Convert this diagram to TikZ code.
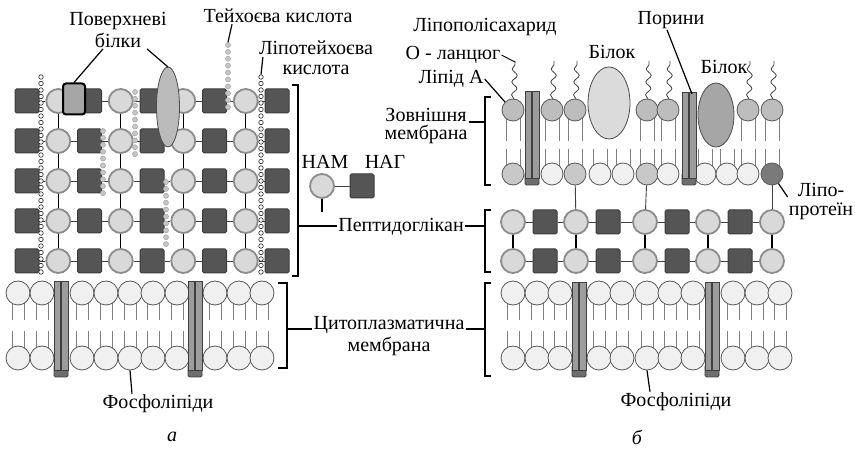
\documentclass[tikz,border=0pt]{standalone}
\usepackage{fontspec}
\setmainfont{Liberation Serif}
\usetikzlibrary{positioning}
\usetikzlibrary{decorations.pathmorphing}

\definecolor{nagfill}{HTML}{555555}
\definecolor{nagdraw}{HTML}{3C3C3C}
\definecolor{namfill}{HTML}{D9D9D9}
\definecolor{namdraw}{HTML}{8C8C8C}
\definecolor{headfill}{HTML}{F0F0F0}
\definecolor{lpsfill}{HTML}{BDBDBD}
\definecolor{lpsb}{HTML}{C8C8C8}
\definecolor{lipprot}{HTML}{7A7A7A}
\definecolor{chanfill}{HTML}{9C9C9C}
\definecolor{chandark}{HTML}{6E6E6E}

\newcommand{\lblfont}{\fontsize{20}{22}\selectfont}
% membrane channel: left x, top y, bottom y
\newcommand{\channel}[3]{%
  \draw[draw=black!75,fill=chandark,line width=0.8pt,rounded corners=1.5pt] (#1,#3-12) rectangle (#1+14,#3);
  \draw[draw=black!75,fill=chanfill,line width=0.8pt] (#1,#2) rectangle (#1+6.5,#3-7);
  \draw[draw=black!75,fill=chanfill,line width=0.8pt] (#1+7.5,#2) rectangle (#1+14,#3-7);
}

\tikzset{
  nag/.style={rectangle,draw=nagdraw,fill=nagfill,line width=1pt,rounded corners=1.5pt,minimum size=24pt,inner sep=0pt},
  nam/.style={circle,draw=namdraw,fill=namfill,line width=1.8pt,minimum size=24pt,inner sep=0pt},
  head/.style={circle,draw=black!65,fill=headfill,line width=0.8pt,minimum size=24pt,inner sep=0pt},
  lps/.style={head,fill=lpsfill,minimum size=22pt},
  teich/.style={circle,draw=black!35,fill=black!22,line width=0.6pt,minimum size=5pt,inner sep=0pt},
  lta/.style={circle,draw=black!85,fill=white,line width=0.6pt,minimum size=4.5pt,inner sep=0pt},
  sprot/.style={rectangle,draw=black,fill=black!35,line width=2pt,rounded corners=3pt,minimum width=22pt,minimum height=31pt,inner sep=0pt},
  tail/.style={draw=black!50,line width=0.9pt},
  link/.style={draw=black,line width=1.4pt},
  hlink/.style={draw=black!75,line width=0.9pt},
  lbl/.style={font=\lblfont,align=center,inner sep=1pt},
  lead/.style={draw=black,line width=1.2pt},
  brace/.style={draw=black,line width=1.5pt},
  ochain/.style={draw=black!75,line width=0.8pt,decorate,decoration={snake,amplitude=2.6pt,segment length=13pt}},
}

\begin{document}
\begin{tikzpicture}[x=1pt,y=-1pt]
\useasboundingbox (0,0) rectangle (855,449);

% ===== а: Gram-positive wall =====
% peptidoglycan net
\foreach \r/\y in {1/101,2/141,3/181,4/221,5/261}{
  \foreach \c in {0,...,8}{
    \pgfmathsetmacro{\x}{27+31.25*\c}
    \ifodd\c \node[nam] (ga-\r-\c) at (\x,\y) {};
    \else \node[nag] (ga-\r-\c) at (\x,\y) {};
    \fi
  }
  \foreach \c [evaluate=\c as \n using int(\c+1)] in {0,...,7}
    \draw[hlink] (ga-\r-\c) -- (ga-\r-\n);
}
\foreach \r [evaluate=\r as \s using int(\r+1)] in {1,...,4}
  \foreach \c in {1,3,5,7}
    \draw[link] (ga-\r-\c) -- (ga-\s-\c);

% teichoic and lipoteichoic acids
\foreach \x/\y in {228/45,135/92,103/131,166/182}
  \foreach \k in {1,...,10}
    \node[teich] (ta-\x-\k) at (\x,\y+6.9*\k-6.9) {};
\foreach \x in {41,261}
  \foreach \k in {1,...,31}
    \node[lta] (la-\x-\k) at (\x,70.5+6.5*\k) {};

% surface proteins
\node[sprot] (sp) at (74,99) {};
\draw[draw=black!70,fill=black!27,line width=0.8pt] (168,107) ellipse [x radius=11.5,y radius=40];
\coordinate (sp2) at (168,67);

\node[lbl] (surf) at (118,30) {Поверхневі\\білки};
\draw[lead] ([xshift=-15pt]surf.south) -- (sp.north);
\draw[lead] ([xshift=29pt]surf.south) -- (sp2);
\node[lbl] (tk) at (278,16) {Тейхоєва кислота};
\draw[lead] ([xshift=-46pt]tk.south) -- (ta-228-1.north);
\node[lbl,font=\fontsize{20}{20.5}\selectfont] (ltk) at (316,58) {Ліпотейхоєва\\кислота};
\draw[lead] ([xshift=5pt,yshift=1pt]ltk.west) -- (la-261-1.north);

\draw[brace] (292,85) -- (298,85) -- (298,276) -- (292,276);
\coordinate (pga) at (298,226);

% NAM / NAG key
\node[lbl] (namlbl) at (325,162) {НАМ};
\node[lbl] (naglbl) at (385,162) {НАГ};
\node[nam] (namkey) at (322,186) {};
\node[nag] (nagkey) at (362,186) {};
\coordinate (namstub) at (322,212);
\draw[hlink] (namkey) -- (nagkey);
\draw[link] (namkey) -- (namstub);

% cytoplasmic membrane
\foreach \x [count=\i] in {18,42,82,106,130,153,177,215,239,262}{
  \draw[tail] (\x-6,300) -- (\x-6,320) (\x+6,300) -- (\x+6,320)
              (\x-6,331) -- (\x-6,351) (\x+6,331) -- (\x+6,351);
  \node[head] (ma-t\i) at (\x,293) {};
  \node[head] (ma-b\i) at (\x,358) {};
}
\channel{54}{281}{377}
\channel{188}{281}{377}
\draw[brace] (278,283) -- (287,283) -- (287,368) -- (278,368);
\coordinate (cma) at (287,329);

\node[lbl] (fla) at (158,404) {Фосфоліпіди};
\draw[lead] ([xshift=-26pt]fla.north) -- (ma-b5.south);
\node[lbl,font=\lblfont\itshape] (capa) at (172,437) {а};

% ===== shared labels =====
\node[lbl] (pglbl) at (401,227) {Пептидоглікан};
\coordinate (pgb) at (485,226);
\draw[lead] (pga) -- (pga -| pglbl.west);
\draw[lead] (pgb -| pglbl.east) -- (pgb);

\node[lbl] (cmlbl) at (389,336) {Цитоплазматична\\мембрана};
\coordinate (cmb) at (485,329);
\draw[lead] (cma) -- (cma -| cmlbl.west);
\draw[lead] (cmb -| cmlbl.east) -- (cmb);

% ===== б: Gram-negative wall =====
% outer membrane
\foreach \x in {513,552,575,647,668,748,772}
  \draw[ochain] (\x+1,99) -- (\x+2,61);
\foreach \x [count=\i] in {513,552,575,647,668,748,772}{
  \draw[tail] (\x-7,115) -- (\x-7,141) (\x+7,115) -- (\x+7,141);
  \node[lps] (ot-\i) at (\x,110) {};
}
\foreach \x/\f [count=\i] in {513/lpsb,552/headfill,575/lpsb,600/headfill,623/headfill,647/lpsb,668/headfill,705/headfill,727/headfill,748/headfill,772/lipprot}{
  \draw[tail] (\x-7,149) -- (\x-7,169) (\x+7,149) -- (\x+7,169);
  \node[head,minimum size=22pt,fill=\f] (ob-\i) at (\x,174) {};
}
\channel{525}{91}{185}
\channel{682}{92}{185}
\draw[draw=black!70,fill=black!14,line width=0.8pt] (609,103) ellipse [x radius=21,y radius=36];
\draw[draw=black!70,fill=black!35,line width=0.8pt] (716,115) ellipse [x radius=18,y radius=32];

\draw[brace] (491,97) -- (485,97) -- (485,185) -- (491,185);
\coordinate (omb) at (485,122);
\node[lbl,font=\fontsize{20}{18}\selectfont] (omlbl) at (426,126) {Зовнішня\\мембрана};
\draw[lead] (omb -| omlbl.east) -- (omb);

\node[lbl] (lpslbl) at (485,27) {Ліпополісахарид};
\node[lbl] (ochlbl) at (453,55) {О - ланцюг};
\coordinate (och) at (515,62);
\draw[lead,line width=0.9pt] (ochlbl.east) -- (och);
\node[lbl] (lipa) at (451,79) {Ліпід А};
\draw[lead] (lipa.east) -- (ot-1.north west);
\node[lbl] (prot1) at (612,52) {Білок};
\node[lbl] (prot2) at (724,67) {Білок};
\node[lbl] (porlbl) at (671,20) {Порини};
\coordinate (porb) at (692,94);
\draw[lead] ([xshift=-4pt]porlbl.south) -- (porb);
\node[lbl,font=\fontsize{20}{19}\selectfont] (lpplbl) at (821,202) {Ліпо-\\протеїн};
\draw[lead] ([yshift=5pt]lpplbl.west) -- (ob-11);

% peptidoglycan layer
\foreach \r/\y in {1/222,2/261}{
  \foreach \x [count=\c] in {513,545,576,608,645,677,708,740,772}{
    \ifodd\c \node[nam] (gb-\r-\c) at (\x,\y) {};
    \else \node[nag] (gb-\r-\c) at (\x,\y) {};
    \fi
  }
  \foreach \c [evaluate=\c as \n using int(\c+1)] in {1,...,8}
    \draw[hlink] (gb-\r-\c) -- (gb-\r-\n);
}
\foreach \c in {1,3,5,7,9}
  \draw[link] (gb-1-\c) -- (gb-2-\c);
\draw[hlink] (ob-3) -- (gb-1-3);
\draw[hlink] (ob-6) -- (gb-1-5);
\draw[hlink] (ob-11) -- (gb-1-9);
\draw[brace] (491,210) -- (485,210) -- (485,272) -- (491,272);

% cytoplasmic membrane
\foreach \x [count=\i] in {513,537,560,599,622,647,670,693,733,757,780}{
  \draw[tail] (\x-6,300) -- (\x-6,320) (\x+6,300) -- (\x+6,320)
              (\x-6,331) -- (\x-6,351) (\x+6,331) -- (\x+6,351);
  \node[head] (mb-t\i) at (\x,293) {};
  \node[head] (mb-b\i) at (\x,358) {};
}
\channel{572}{282}{377}
\channel{705}{282}{377}
\draw[brace] (491,283) -- (485,283) -- (485,376) -- (491,376);

\node[lbl] (flb) at (676,402) {Фосфоліпіди};
\draw[lead] ([xshift=-26pt]flb.north) -- (mb-b6.south);
\node[lbl,font=\lblfont\itshape] (capb) at (637,437) {б};

\end{tikzpicture}
\end{document}
